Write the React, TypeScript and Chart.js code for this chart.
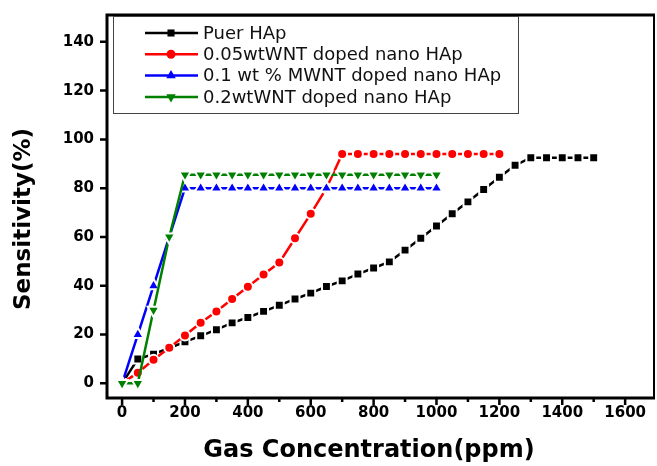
import React, { useEffect, useRef } from 'react';
import { Chart, registerables } from 'chart.js';
import { drawPoint } from 'chart.js/helpers';

Chart.register(...registerables);

// ---- data ----
const seriesNames = [
  'Puer HAp',
  '0.05wtWNT doped nano HAp',
  '0.1 wt % MWNT doped nano HAp',
  '0.2wtWNT doped nano HAp',
];
const seriesColors = ['#000000', '#ff0000', '#0000ff', '#008000'];

const xPuer = [0, 50, 100, 150, 200, 250, 300, 350, 400, 450, 500, 550, 600, 650, 700, 750, 800, 850, 900, 950, 1000, 1050, 1100, 1150, 1200, 1250, 1300, 1350, 1400, 1450, 1500];
const yPuer = [0, 10, 12, 14.5, 17, 19.5, 22, 24.8, 27, 29.5, 32, 34.6, 37, 39.7, 42, 44.8, 47.3, 49.8, 54.6, 59.5, 64.5, 69.5, 74.4, 79.5, 84.5, 89.4, 92.5, 92.5, 92.5, 92.5, 92.5];

const x005 = [0, 50, 100, 150, 200, 250, 300, 350, 400, 450, 500, 550, 600, 650, 700, 750, 800, 850, 900, 950, 1000, 1050, 1100, 1150, 1200];
const y005 = [0, 4.4, 9.7, 14.6, 19.6, 24.8, 29.5, 34.6, 39.6, 44.6, 49.5, 59.5, 69.5, 80, 94, 94, 94, 94, 94, 94, 94, 94, 94, 94, 94];

const x01 = [0, 50, 100, 150, 200, 250, 300, 350, 400, 450, 500, 550, 600, 650, 700, 750, 800, 850, 900, 950, 1000];
const y01 = [0, 20, 40, 60, 80, 80, 80, 80, 80, 80, 80, 80, 80, 80, 80, 80, 80, 80, 80, 80, 80];

const x02 = [0, 50, 100, 150, 200, 250, 300, 350, 400, 450, 500, 550, 600, 650, 700, 750, 800, 850, 900, 950, 1000];
const y02 = [0, 0, 30, 60, 85.5, 85.5, 85.5, 85.5, 85.5, 85.5, 85.5, 85.5, 85.5, 85.5, 85.5, 85.5, 85.5, 85.5, 85.5, 85.5, 85.5];

const xTickValues = [0, 200, 400, 600, 800, 1000, 1200, 1400, 1600];
const xMinorTickValues = [100, 300, 500, 700, 900, 1100, 1300, 1500];
const yTickValues = [0, 20, 40, 60, 80, 100, 120, 140];

const xTitle = 'Gas Concentration(ppm)';
const yTitle = 'Sensitivity(%)';

const pointStyles = ['rect', 'circle', 'triangle', 'triangle'];
const pointRotations = [0, 0, 0, 180];
const pointRadii = [6.3, 5, 6.8, 6.8];
const legendRadii = [5, 4.5, 5.5, 5.5];

const toPts = (xs: number[], ys: number[]) => xs.map((x, i) => ({ x, y: ys[i] }));

const decorPlugin = {
  id: 'decor',
  afterDraw(chart: any) {
    const { ctx, chartArea: a, scales } = chart;
    const xs = scales.x;
    const ys = scales.y;
    ctx.save();
    ctx.strokeStyle = '#000';
    ctx.lineCap = 'butt';
    // frame
    ctx.lineWidth = 3;
    ctx.beginPath();
    ctx.moveTo(a.right, a.top);
    ctx.lineTo(a.left, a.top);
    ctx.lineTo(a.left, a.bottom);
    ctx.lineTo(a.right, a.bottom);
    ctx.stroke();
    ctx.lineWidth = 2;
    ctx.beginPath();
    ctx.moveTo(a.right - 1, a.top);
    ctx.lineTo(a.right - 1, a.bottom);
    ctx.stroke();
    // ticks
    ctx.lineWidth = 2.5;
    ctx.beginPath();
    for (const v of xTickValues) {
      const p = xs.getPixelForValue(v);
      ctx.moveTo(p, a.bottom);
      ctx.lineTo(p, a.bottom + 7);
    }
    for (const v of xMinorTickValues) {
      const p = xs.getPixelForValue(v);
      ctx.moveTo(p, a.bottom);
      ctx.lineTo(p, a.bottom + 4);
    }
    for (const v of yTickValues) {
      const p = ys.getPixelForValue(v);
      ctx.moveTo(a.left, p);
      ctx.lineTo(a.left - 7, p);
    }
    ctx.stroke();
    // legend box
    ctx.lineWidth = 1;
    ctx.strokeStyle = '#444';
    ctx.strokeRect(113.5, 16.5, 405, 97);
    ctx.textBaseline = 'middle';
    ctx.textAlign = 'left';
    ctx.font = '18px "DejaVu Sans"';
    for (let i = 0; i < seriesNames.length; i++) {
      const cy = 33 + i * 21.3;
      ctx.strokeStyle = seriesColors[i];
      ctx.fillStyle = seriesColors[i];
      ctx.lineWidth = 2.5;
      ctx.beginPath();
      ctx.moveTo(145, cy);
      ctx.lineTo(198, cy);
      ctx.stroke();
      drawPoint(ctx, { pointStyle: pointStyles[i], radius: legendRadii[i], rotation: pointRotations[i], borderWidth: 0 } as any, 171, cy);
      ctx.fillStyle = '#111';
      ctx.fillText(seriesNames[i], 203, cy + 1);
    }
    // axis titles
    ctx.fillStyle = '#000';
    ctx.textAlign = 'center';
    ctx.font = 'bold 24px "DejaVu Sans"';
    ctx.fillText(xTitle, 369, 451);
    ctx.save();
    ctx.translate(24, 219);
    ctx.rotate(-Math.PI / 2);
    ctx.font = 'bold 23px "DejaVu Sans"';
    ctx.fillText(yTitle, 0, 0);
    ctx.restore();
    ctx.restore();
  },
};

export default function App() {
  const ref = useRef<HTMLCanvasElement | null>(null);
  useEffect(() => {
    if (!ref.current) return;
    const allX = [xPuer, x005, x01, x02];
    const allY = [yPuer, y005, y01, y02];
    const datasets = seriesNames.map((name, i) => ({
      label: name,
      data: toPts(allX[i], allY[i]),
      borderColor: seriesColors[i],
      backgroundColor: seriesColors[i],
      borderWidth: 2.5,
      pointStyle: pointStyles[i],
      pointRotation: pointRotations[i],
      pointRadius: pointRadii[i],
      pointBackgroundColor: seriesColors[i],
      pointBorderColor: '#ffffff',
      pointBorderWidth: 2,
      tension: 0,
      fill: false,
      order: 3 - i,
    }));
    const tickFont = { family: 'DejaVu Sans', weight: 'bold' as const, size: 15 };
    const chart = new Chart(ref.current, {
      type: 'line',
      data: { datasets },
      plugins: [decorPlugin],
      options: {
        animation: false,
        responsive: false,
        maintainAspectRatio: false,
        layout: { autoPadding: false, padding: { top: 15, right: 2, left: 0, bottom: 0 } },
        plugins: { legend: { display: false }, tooltip: { enabled: false } },
        scales: {
          x: {
            type: 'linear',
            min: -48,
            max: 1695,
            afterFit: (s: any) => { s.height = 68; s.paddingLeft = 0; s.paddingRight = 0; },
            afterBuildTicks: (s: any) => { s.ticks = xTickValues.map((v) => ({ value: v })); },
            ticks: { font: tickFont, color: '#000', padding: -1, maxRotation: 0, autoSkip: false, callback: (v: any) => String(v) },
            grid: { drawOnChartArea: false, color: 'rgba(0,0,0,0)', tickLength: 7 },
            border: { display: false },
          },
          y: {
            type: 'linear',
            min: -6,
            max: 151,
            afterFit: (s: any) => { s.width = 107; s.paddingTop = 0; s.paddingBottom = 0; },
            afterBuildTicks: (s: any) => { s.ticks = yTickValues.map((v) => ({ value: v })); },
            ticks: { font: tickFont, color: '#000', padding: 6, autoSkip: false, callback: (v: any) => String(v) },
            grid: { drawOnChartArea: false, color: 'rgba(0,0,0,0)', tickLength: 7 },
            border: { display: false },
          },
        },
      },
    });
    return () => chart.destroy();
  }, []);
  return (
    <div style={{ position: 'fixed', left: 0, top: 0, width: 657, height: 466, background: '#fff' }}>
      <canvas ref={ref} width={657} height={466} style={{ display: 'block' }} />
    </div>
  );
}
